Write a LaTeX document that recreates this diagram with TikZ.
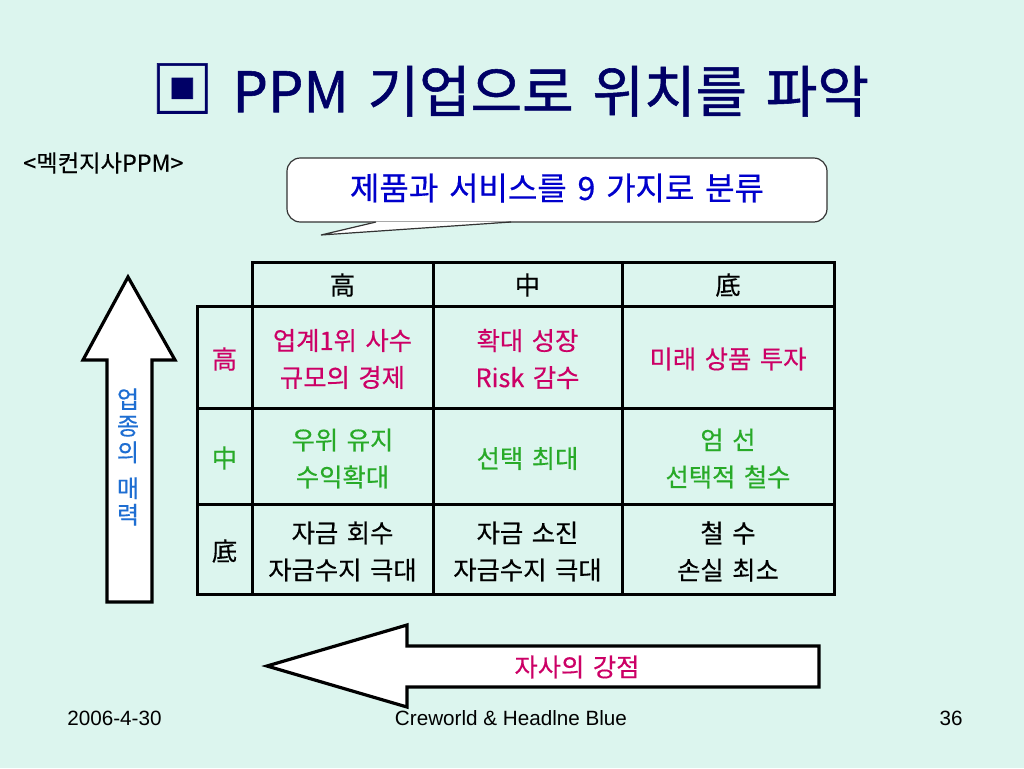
\documentclass[tikz,border=0pt]{standalone}
\usepackage{fontspec}
\setmainfont{Noto Sans CJK KR}[WordSpace=1.5, FakeBold=0.4]
\newfontfamily\titlefont{Noto Sans CJK KR}[WordSpace=1.5, FakeBold=1.0]
\newfontfamily\latfont{Liberation Sans}
\definecolor{bg}{RGB}{220,245,238}
\definecolor{navy}{RGB}{0,0,102}
\definecolor{callblue}{RGB}{0,0,204}
\definecolor{mag}{RGB}{204,0,102}
\definecolor{grn}{RGB}{40,170,40}
\definecolor{vblue}{RGB}{30,110,210}
\tikzset{
  celltxt/.style={align=center, inner sep=0pt, font=\fontsize{19pt}{27.75pt}\selectfont},
  gridline/.style={line width=2.25pt, line cap=rect},
  bigarrow/.style={fill=white, draw=black, line width=2.4pt, line join=miter},
  foot/.style={inner sep=0pt, font=\latfont\fontsize{15.5pt}{18pt}\selectfont},
}
\begin{document}
\begin{tikzpicture}[x=0.75pt,y=-0.75pt]
\fill[bg] (0,0) rectangle (1024,768);
\useasboundingbox (0,0) rectangle (1024,768);

% title
\node[inner sep=0pt, text=navy, font=\titlefont\fontsize{42pt}{45pt}\selectfont] (title) at (510,90) {{\fontsize{47pt}{50pt}\selectfont ▣} PPM 기업으로 위치를 파악};

% subtitle
\node[inner sep=0pt, anchor=west, font=\fontsize{17.5pt}{19pt}\selectfont] (sub) at (23,163) {<멕컨지사PPM>};

% callout
\fill[white, rounded corners=10pt] (287,158) rectangle (827,222);
\draw[line width=0.9pt, draw=black!80, rounded corners=10pt] (287,158) rectangle (827,222);
\fill[white] (376,221.5) -- (321,235) -- (511,221.5) -- cycle;
\draw[line width=0.9pt, draw=black!80] (376,222) -- (321,235) -- (511,222);
\node[inner sep=0pt, text=callblue, font=\fontsize{24pt}{26pt}\selectfont] (callout) at (557,188) {제품과 서비스를 9 가지로 분류};

% table grid
\draw[gridline] (252,262) rectangle (834,306);
\draw[gridline] (197,306) rectangle (834,594);
\draw[gridline] (252,262) -- (252,594);
\draw[gridline] (433,262) -- (433,594);
\draw[gridline] (622,262) -- (622,594);
\draw[gridline] (197,408) -- (834,408);
\draw[gridline] (197,504) -- (834,504);

% header
\node[celltxt] (h1) at (342.5,285) {高};
\node[celltxt] (h2) at (527.5,285) {中};
\node[celltxt] (h3) at (728,285) {底};
% row labels
\node[celltxt, text=mag] (r1) at (224.5,359) {高};
\node[celltxt, text=grn] (r2) at (224.5,458) {中};
\node[celltxt] (r3) at (224.5,551) {底};
% row 1
\node[celltxt, text=mag] (c11) at (342.5,359) {업계1위 사수\\규모의 경제};
\node[celltxt, text=mag] (c12) at (527.5,359) {확대 성장\\Risk 감수};
\node[celltxt, text=mag] (c13) at (728,359) {미래 상품 투자};
% row 2
\node[celltxt, text=grn] (c21) at (342.5,458.5) {우위 유지\\수익확대};
\node[celltxt, text=grn] (c22) at (527.5,458.5) {선택 최대};
\node[celltxt, text=grn] (c23) at (728,458.5) {엄 선\\선택적 철수};
% row 3
\node[celltxt] (c31) at (342.5,551.5) {자금 회수\\자금수지 극대};
\node[celltxt] (c32) at (527.5,551.5) {자금 소진\\자금수지 극대};
\node[celltxt] (c33) at (728,551.5) {철 수\\손실 최소};

% up arrow
\draw[bigarrow] (128,277) -- (175,360) -- (152,360) -- (152,602) -- (107,602) -- (107,360) -- (83,360) -- cycle;
\node[inner sep=0pt, align=center, text=vblue, font=\fontsize{18pt}{19.9pt}\selectfont] (vlab) at (128,457) {업\\종\\의\\[7pt]매\\력};

% left arrow
\draw[bigarrow] (267,666) -- (407,625) -- (407,646) -- (819,646) -- (819,687) -- (407,687) -- (407,707) -- cycle;
\node[inner sep=0pt, text=mag, font=\fontsize{19pt}{21pt}\selectfont] (hlab) at (577,667) {자사의 강점};

% footer
\node[foot] (date) at (114.5,718) {2006-4-30};
\node[foot] (credit) at (511,718) {Creworld \& Headlne Blue};
\node[foot] (page) at (951,718) {36};
\end{tikzpicture}
\end{document}
